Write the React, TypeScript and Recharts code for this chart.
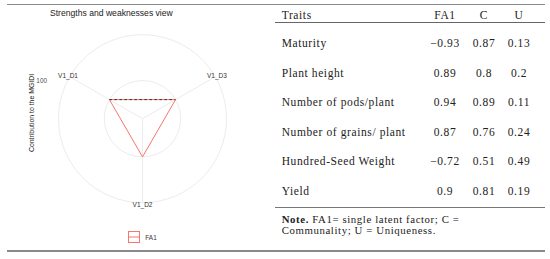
import React from 'react';
import {
  RadarChart,
  Radar,
  PolarGrid,
  PolarAngleAxis,
  PolarRadiusAxis,
  Legend
} from 'recharts';

// radar: contribution of FA1 to the MGIDI per genotype
const genotypes = ['V1_D1', 'V1_D3', 'V1_D2'];
const fa1Contribution = [100, 100, 100];
const radiusTicks = [100];
const RADIUS_MAX = 220;

// factor table
const traits = [
  'Maturity',
  'Plant height',
  'Number of pods/plant',
  'Number of grains/ plant',
  'Hundred-Seed Weight',
  'Yield'
];
const fa1Loadings = [-0.93, 0.89, 0.94, 0.87, -0.72, 0.9];
const communality = [0.87, 0.8, 0.89, 0.76, 0.51, 0.81];
const uniqueness = [0.13, 0.2, 0.11, 0.24, 0.49, 0.19];
const headers = ['Traits', 'FA1', 'C', 'U'];

const RED = '#F8766D';
const SANS = '"Liberation Sans", Arial, sans-serif';
const SERIF = '"Liberation Serif", "Times New Roman", serif';

const OUTER_R = 84;
const CX = 142.5;
const CY = 118.7;

const radarData = genotypes.map((g, i) => ({ genotype: g, FA1: fa1Contribution[i] }));

const fmt = (n: number) => (n < 0 ? '\u2212' + Math.abs(n) : String(n));

const PolygonShape = (props: any) => {
  const pts = props.points || [];
  if (!pts.length) return null;
  const d = pts.map((p: any, i: number) => `${i ? 'L' : 'M'}${p.x},${p.y}`).join(' ') + ' Z';
  return (
    <g>
      <path d={d} fill="none" stroke={RED} strokeWidth={1} />
      <line
        x1={pts[0].x}
        y1={pts[0].y}
        x2={pts[1].x}
        y2={pts[1].y}
        stroke="#333"
        strokeWidth={1}
        strokeDasharray="2.5 2.5"
      />
    </g>
  );
};

const AngleTick = (props: any) => {
  const { x, y, payload } = props;
  return (
    <text x={x} y={y} textAnchor="middle" dominantBaseline="central" fontSize={6.5} fill="#333" fontFamily={SANS}>
      {payload.value}
    </text>
  );
};

const RadiusTick = (props: any) => {
  const { y, payload } = props;
  return (
    <text x={47} y={y} textAnchor="end" dominantBaseline="central" fontSize={6.4} fill="#4d4d4d" fontFamily={SANS}>
      {payload.value}
    </text>
  );
};

const renderLegend = (props: any) => {
  const items = props.payload || [];
  return (
    <div style={{ display: 'flex', justifyContent: 'center', alignItems: 'center' }}>
      {items.map((it: any) => (
        <div key={it.value} style={{ display: 'flex', alignItems: 'center' }}>
          <svg width={12} height={12}>
            <rect x={0.5} y={0.5} width={11} height={11} fill="none" stroke={RED} />
            <line x1={0.5} y1={6} x2={11.5} y2={6} stroke={RED} />
          </svg>
          <span style={{ marginLeft: 5, fontSize: 6.4, fontFamily: SANS, color: '#333' }}>{it.value}</span>
        </div>
      ))}
    </div>
  );
};

const rowCenter = (i: number) => 43 + i * 29.5;
const numCols = [445, 484, 519];

const cellStyle = (center: number, left: number, width: number, align: 'left' | 'center'): React.CSSProperties => ({
  position: 'absolute',
  left,
  top: center - 7,
  width,
  height: 14,
  lineHeight: '14px',
  textAlign: align,
  whiteSpace: 'nowrap',
  fontFamily: SERIF,
  fontSize: 11.5,
  letterSpacing: 0.6,
  color: '#222'
});

const hline = (y: number, x1: number, x2: number, h: number, color: string): React.CSSProperties => ({
  position: 'absolute',
  left: x1,
  top: y - h / 2,
  width: x2 - x1,
  height: h,
  background: color
});

export default function App() {
  return (
    <div style={{ position: 'absolute', left: 0, top: 0, width: 550, height: 259, background: '#fff', overflow: 'hidden' }}>
      <div style={hline(4, 7, 545, 1, '#8a8a8a')} />

      {/* left panel: radar */}
      <div style={{ position: 'absolute', left: 0, top: 0, width: 285, height: 259 }}>
        <RadarChart
          width={285}
          height={259}
          data={radarData}
          cx={CX}
          cy={CY}
          outerRadius={OUTER_R}
          startAngle={150}
          endAngle={-210}
          margin={{ top: 0, right: 0, bottom: 0, left: 0 }}
        >
          <PolarGrid
            gridType="circle"
            stroke="#ececec"
            polarRadius={radiusTicks.map(t => (t / RADIUS_MAX) * OUTER_R).concat([OUTER_R])}
          />
          <PolarAngleAxis dataKey="genotype" tick={<AngleTick />} tickSize={2} tickLine={false} axisLine={false} />
          <PolarRadiusAxis
            angle={90}
            domain={[0, RADIUS_MAX]}
            ticks={radiusTicks}
            tick={<RadiusTick />}
            tickLine={false}
            axisLine={false}
          />
          <Radar
            name="FA1"
            dataKey="FA1"
            stroke={RED}
            fill="none"
            shape={PolygonShape}
            isAnimationActive={false}
          />
          <Legend verticalAlign="bottom" content={renderLegend} wrapperStyle={{ top: 231, bottom: 'auto', left: 0, width: 285 }} />
        </RadarChart>
        <div style={{ position: 'absolute', left: 50, top: 7, fontFamily: SANS, fontSize: 8.6, color: '#222', whiteSpace: 'nowrap', lineHeight: '12px' }}>
          Strengths and weaknesses view
        </div>
        <div
          style={{
            position: 'absolute',
            left: 30.5,
            top: 113,
            transform: 'translate(-50%, -50%) rotate(-90deg)',
            fontFamily: SANS,
            fontSize: 6.9,
            color: '#222',
            whiteSpace: 'nowrap'
          }}
        >
          Contribution to the MGIDI
        </div>
      </div>

      {/* right panel: table */}
      <div style={cellStyle(15, 281.7, 120, 'left')}>{headers[0]}</div>
      {headers.slice(1).map((h, j) => (
        <div key={h} style={cellStyle(15, numCols[j] - 22, 44, 'center')}>{h}</div>
      ))}
      <div style={hline(22, 275, 545, 1, '#666')} />
      {traits.map((t, i) => (
        <React.Fragment key={t}>
          <div style={cellStyle(rowCenter(i), 281.7, 150, 'left')}>{t}</div>
          {[fa1Loadings[i], communality[i], uniqueness[i]].map((v, j) => (
            <div key={j} style={cellStyle(rowCenter(i), numCols[j] - 22, 44, 'center')}>{fmt(v)}</div>
          ))}
        </React.Fragment>
      ))}
      <div style={hline(207, 275, 545, 1, '#777')} />
      <div
        style={{
          position: 'absolute',
          left: 281.7,
          top: 213.5,
          width: 260,
          fontFamily: SERIF,
          fontSize: 10.8,
          letterSpacing: 0.6,
          lineHeight: '11px',
          color: '#222'
        }}
      >
        <b>Note.</b> FA1= single latent factor; C =<br />
        Communality; U = Uniqueness.
      </div>
      <div style={hline(251, 7, 545, 1.6, '#8a8a8a')} />
    </div>
  );
}
